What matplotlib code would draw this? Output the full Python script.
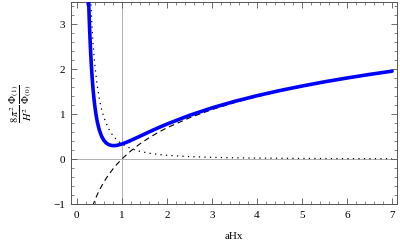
import matplotlib
matplotlib.use("Agg")
import matplotlib.pyplot as plt
from matplotlib.ticker import MultipleLocator

plt.rcParams['font.family'] = ['Liberation Serif', 'DejaVu Serif']
plt.rcParams['mathtext.fontset'] = 'stix'

# total (blue)
x_total = [0.25, 0.26, 0.27, 0.28, 0.30, 0.32, 0.34, 0.36, 0.38, 0.40, 0.43, 0.46,
           0.50, 0.55, 0.60, 0.65, 0.70, 0.75, 0.80, 0.85, 0.90, 1.0, 1.1, 1.2,
           1.4, 1.6, 1.8, 2.0, 2.5, 3.0, 3.5, 4.0, 4.5, 5.0, 5.5, 6.0, 6.5, 7.0]
y_total = [3.947, 3.584, 3.263, 2.979, 2.500, 2.116, 1.805, 1.550, 1.340, 1.167, 0.959, 0.798,
           0.640, 0.504, 0.415, 0.358, 0.323, 0.305, 0.298, 0.298, 0.306, 0.333, 0.371, 0.414,
           0.506, 0.600, 0.691, 0.776, 0.970, 1.136, 1.280, 1.407, 1.520, 1.622, 1.716, 1.801, 1.880, 1.953]

# dotted (decaying term)
x_dot = [0.29, 0.30, 0.32, 0.34, 0.36, 0.38, 0.40, 0.45, 0.50, 0.55, 0.60, 0.70, 0.80, 0.90,
         1.0, 1.2, 1.4, 1.6, 1.8, 2.0, 2.5, 3.0, 3.5, 4.0, 5.0, 6.0, 7.0]
y_dot = [3.96, 3.70, 3.26, 2.88, 2.57, 2.31, 2.08, 1.65, 1.333, 1.102, 0.926, 0.680, 0.521, 0.412,
         0.333, 0.231, 0.170, 0.130, 0.103, 0.083, 0.053, 0.037, 0.027, 0.021, 0.013, 0.009, 0.007]

# dashed (log term)
x_dash = [0.35, 0.37, 0.40, 0.45, 0.50, 0.60, 0.70, 0.80, 0.90, 1.0, 1.2, 1.4, 1.6, 1.8, 2.0,
          2.5, 3.0, 3.5, 4.0, 4.5, 5.0, 5.5, 6.0, 6.5, 7.0]
y_dash = [-1.050, -0.994, -0.916, -0.799, -0.693, -0.511, -0.357, -0.223, -0.105, 0.0, 0.182,
          0.336, 0.470, 0.588, 0.693, 0.916, 1.099, 1.253, 1.386, 1.504, 1.609, 1.705, 1.792, 1.872, 1.946]

x_ticks = [0, 1, 2, 3, 4, 5, 6, 7]
y_ticks = [-1, 0, 1, 2, 3]

fig = plt.figure(figsize=(4.0, 2.45), dpi=100)
ax = fig.add_axes([71/400, 1-204/245, (397-71)/400, (204-2)/245])

ax.axvline(1, color='#b0b0b0', lw=0.7, zorder=1)
ax.axhline(0, color='#b0b0b0', lw=0.7, zorder=1)

ax.plot(x_dash, y_dash, color='black', lw=0.8, dashes=(5, 3.5), zorder=2)
ax.plot(x_dot, y_dot, color='black', lw=0.9, dashes=(1, 3.4), zorder=2)
ax.plot(x_total, y_total, color='#0000ff', lw=2.6, solid_capstyle='round',
        solid_joinstyle='round', zorder=3)

ax.set_xlim(-0.13, 7.11)
ax.set_ylim(-1, 3.49)
ax.set_xticks(x_ticks)
ax.set_yticks(y_ticks)
ax.set_yticklabels(['\u22121', '0', '1', '2', '3'])
ax.xaxis.set_minor_locator(MultipleLocator(0.2))
ax.yaxis.set_minor_locator(MultipleLocator(0.2))
ax.tick_params(which='both', direction='in', top=True, right=True,
               color='#555555', labelsize=8)
ax.tick_params(which='major', length=4, width=0.6)
ax.tick_params(which='minor', length=2, width=0.5)
ax.tick_params(axis='x', pad=5)
ax.tick_params(axis='y', pad=4)
for s in ax.spines.values():
    s.set_color('#555555')
    s.set_linewidth(0.7)

ax.set_xlabel('aHx', fontsize=8, labelpad=9)
fig.text(21/400, 1-104/245,
         r'$\dfrac{8\,\pi^2}{H^2}\;\dfrac{\Phi_{(1)}}{\Phi_{(0)}}$',
         rotation=90, ha='center', va='center', fontsize=7.5)

fig.savefig('out.png', dpi=100)
